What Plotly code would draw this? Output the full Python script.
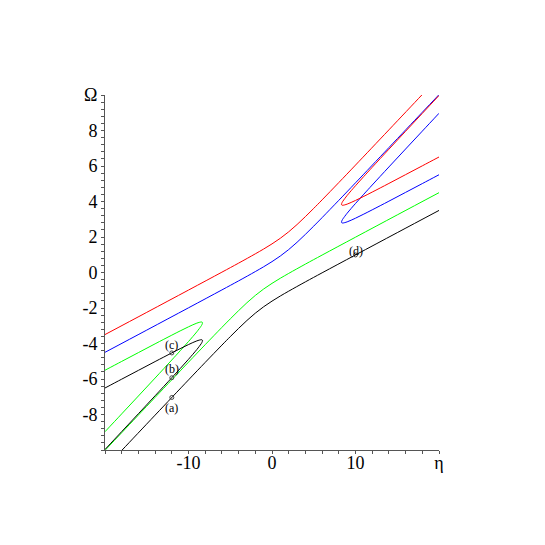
import plotly.graph_objects as go

# upper branches (red / blue), sampled along eta
x_upper = [-20, -15, -10, -6, -4, -2, -1, 0, 1, 2, 3, 4, 5, 6, 8, 10, 14, 18, 20]
blue_main = [-4.497, -3.245, -1.99, -0.982, -0.472, 0.051, 0.323, 0.612, 0.93, 1.292,
             1.702, 2.148, 2.614, 3.092, 4.066, 5.051, 7.036, 9.027, 10.02]
red_main = [-3.497, -2.245, -0.99, 0.018, 0.528, 1.051, 1.323, 1.612, 1.93, 2.292,
            2.702, 3.148, 3.614, 4.092, 5.066, 6.051, 8.036, 10.027, 11.02]

# lower branches (green / black)
x_lower = [-20, -18, -14, -10, -8, -6, -5, -4, -3, -2, -1, 0, 1, 2, 4, 6, 10, 15, 20]
green_main = [-10.02, -9.027, -7.036, -5.051, -4.066, -3.092, -2.614, -2.148, -1.702, -1.292,
              -0.93, -0.612, -0.323, -0.051, 0.472, 0.982, 1.99, 3.245, 4.497]
black_main = [-11.02, -10.027, -8.036, -6.051, -5.066, -4.092, -3.614, -3.148, -2.702, -2.292,
              -1.93, -1.612, -1.323, -1.051, -0.528, -0.018, 0.99, 2.245, 3.497]

# closed "C" shaped branches
x_loop_right = [20, 18, 16, 14, 12, 11, 10, 9, 8.5, 8.4, 8.32, 8.4, 8.5, 9, 10, 11, 12, 14, 16, 18, 20]
blue_loop = [5.507, 5.009, 4.513, 4.018, 3.53, 3.291, 3.06, 2.853, 2.788, 2.79, 2.825,
             2.946, 3.025, 3.339, 3.889, 4.413, 4.928, 5.946, 6.957, 7.964, 8.97]
red_loop = [6.507, 6.009, 5.513, 5.018, 4.53, 4.291, 4.06, 3.853, 3.788, 3.79, 3.825,
            3.946, 4.025, 4.339, 4.889, 5.413, 5.928, 6.946, 7.957, 8.964, 9.97]

x_loop_left = [-20, -18, -16, -14, -12, -11, -10, -9, -8.5, -8.4, -8.32, -8.4, -8.5, -9, -10, -11, -12, -14, -16, -18, -20]
green_loop = [-5.507, -5.009, -4.513, -4.018, -3.53, -3.291, -3.06, -2.853, -2.788, -2.79, -2.825,
              -2.946, -3.025, -3.339, -3.889, -4.413, -4.928, -5.946, -6.957, -7.964, -8.97]
black_loop = [-6.507, -6.009, -5.513, -5.018, -4.53, -4.291, -4.06, -3.853, -3.788, -3.79, -3.825,
              -3.946, -4.025, -4.339, -4.889, -5.413, -5.928, -6.946, -7.957, -8.964, -9.97]

# marked points
pts_x = [-12, -12, -12, 10]
pts_y = [-7.04, -5.93, -4.53, 0.99]
pts_labels = ["(a)", "(b)", "(c)", "(d)"]

x_ticks = [-10, 0, 10, 20]
x_ticktext = ["-10", "0", "10", "η"]
y_ticks = [-8, -6, -4, -2, 0, 2, 4, 6, 8, 10]
y_ticktext = ["-8", "-6", "-4", "-2", "0", "2", "4", "6", "8", "Ω"]

serif = "Times New Roman, Tinos, DejaVu Serif, serif"

fig = go.Figure()

curves = [
    (x_lower, green_main, "#00ff00"),
    (x_loop_left, green_loop, "#00ff00"),
    (x_lower, black_main, "black"),
    (x_loop_left, black_loop, "black"),
    (x_upper, blue_main, "blue"),
    (x_loop_right, blue_loop, "blue"),
    (x_upper, red_main, "red"),
    (x_loop_right, red_loop, "red"),
]
for xs, ys, col in curves:
    fig.add_trace(go.Scatter(x=xs, y=ys, mode="lines",
                             line=dict(color=col, width=1, shape="spline"),
                             hoverinfo="skip"))

fig.add_trace(go.Scatter(x=pts_x, y=pts_y, mode="markers",
                         marker=dict(symbol="circle-open", size=4, color="#444",
                                     line=dict(width=1, color="#444"))))

shifts = [-11, 9, 8, 4]
for px, py, lab, sh in zip(pts_x, pts_y, pts_labels, shifts):
    fig.add_annotation(x=px, y=py, text=lab, showarrow=False, yshift=sh,
                       font=dict(family=serif, size=12, color="black"))

fig.update_xaxes(range=[-20, 20], showgrid=False, zeroline=False,
                 showline=True, linecolor="#555", linewidth=1,
                 tickmode="array", tickvals=x_ticks, ticktext=x_ticktext,
                 ticks="outside", ticklen=3, tickcolor="#555",
                 ticklabelstandoff=-7,
                 minor=dict(tickmode="linear", tick0=0, dtick=2, ticks="outside",
                            ticklen=3, tickcolor="#555"),
                 tickfont=dict(family=serif, size=18, color="black"))
fig.update_yaxes(range=[-10, 10], showgrid=False, zeroline=False,
                 showline=True, linecolor="#555", linewidth=1,
                 tickmode="array", tickvals=y_ticks, ticktext=y_ticktext,
                 ticks="outside", ticklen=3, tickcolor="#555",
                 minor=dict(tickmode="linear", tick0=0, dtick=0.4, ticks="outside",
                            ticklen=3, tickcolor="#555"),
                 tickfont=dict(family=serif, size=18, color="black"))

# page body has an 8px margin, so the figure is shrunk by that much
fig.update_layout(width=537, height=537, showlegend=False,
                  plot_bgcolor="white", paper_bgcolor="white",
                  margin=dict(l=97, r=106, t=87, b=95))

fig.write_html("out.html")
